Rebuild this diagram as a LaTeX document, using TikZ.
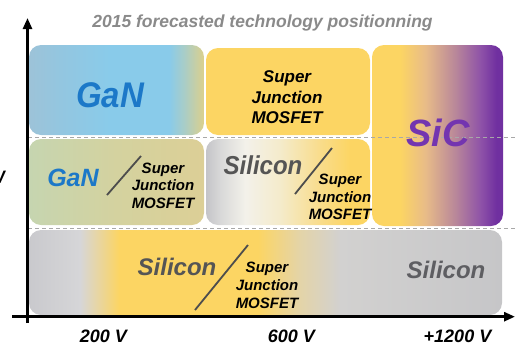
\documentclass[tikz,border=0pt]{standalone}
\usepackage{fontspec}
\setmainfont{Liberation Sans}
\usetikzlibrary{arrows.meta}
\definecolor{gan0}{HTML}{9DC3D8}
\definecolor{gan1}{HTML}{93C6E0}
\definecolor{gan2}{HTML}{89CBEA}
\definecolor{gan3}{HTML}{AACDC6}
\definecolor{gan4}{HTML}{DCD08C}
\definecolor{sjyellow}{HTML}{FCD563}
\definecolor{sic1}{HTML}{E8BC88}
\definecolor{sic2}{HTML}{B8869A}
\definecolor{sic3}{HTML}{8E52A8}
\definecolor{sic4}{HTML}{7030A0}
\definecolor{ml0}{HTML}{C6D5B0}
\definecolor{ml1}{HTML}{D4D29F}
\definecolor{ml2}{HTML}{DCCF96}
\definecolor{mm0}{HTML}{C4C4C8}
\definecolor{mm1}{HTML}{D8D8D8}
\definecolor{mm2}{HTML}{F3F1EA}
\definecolor{mm3}{HTML}{F4EBCB}
\definecolor{mm4}{HTML}{F9DC8A}
\definecolor{bt0}{HTML}{C9C9CD}
\definecolor{bt1}{HTML}{D6D6D8}
\definecolor{bt2}{HTML}{E4D4A8}
\definecolor{bt3}{HTML}{D2D1D0}
\definecolor{bt4}{HTML}{C6C6C8}
\definecolor{ganblue}{HTML}{1C78C8}
\definecolor{sicpurple}{HTML}{7335B0}
\definecolor{sigray}{HTML}{555555}
\definecolor{sigray2}{HTML}{5E5E62}
\definecolor{titlegray}{HTML}{8A8A8A}
\definecolor{sepgray}{HTML}{A8A8A8}
\definecolor{slashgray}{HTML}{4D4D4D}
\pgfdeclarehorizontalshading{ganshade}{100bp}{color(0bp)=(gan0); color(25bp)=(gan0); color(34bp)=(gan1); color(48bp)=(gan2); color(65bp)=(gan2); color(69.5bp)=(gan3); color(75bp)=(gan4); color(100bp)=(gan4)}
\pgfdeclarehorizontalshading{sicshade}{100bp}{color(0bp)=(sjyellow); color(25bp)=(sjyellow); color(35.8bp)=(sjyellow); color(45.4bp)=(sic1); color(57bp)=(sic2); color(66.5bp)=(sic3); color(72.5bp)=(sic4); color(100bp)=(sic4)}
\pgfdeclarehorizontalshading{mlshade}{100bp}{color(0bp)=(ml0); color(25bp)=(ml0); color(50bp)=(ml1); color(75bp)=(ml2); color(100bp)=(ml2)}
\pgfdeclarehorizontalshading{mmshade}{100bp}{color(0bp)=(mm0); color(25bp)=(mm0); color(29.3bp)=(mm1); color(37bp)=(mm2); color(47.5bp)=(mm3); color(60bp)=(mm4); color(69bp)=(sjyellow); color(100bp)=(sjyellow)}
\pgfdeclarehorizontalshading{btshade}{100bp}{color(0bp)=(bt0); color(25bp)=(bt0); color(30.4bp)=(bt1); color(34.5bp)=(sjyellow); color(49.2bp)=(sjyellow); color(53.6bp)=(bt2); color(57.9bp)=(bt3); color(75bp)=(bt4); color(100bp)=(bt4)}
\newcommand\myfs[2]{\fontsize{#1}{#2}\selectfont}
\begin{document}
\begin{tikzpicture}[x=1pt,y=-1pt,
  txt/.style={inner sep=0pt, align=center},
  box/.style={rounded corners=12pt},
  sepline/.style={draw=sepgray, dash pattern=on 4pt off 3pt, line width=1pt},
  slash/.style={draw=slashgray, line width=1.8pt},
  axisline/.style={line width=2.6pt, -{Triangle[length=11pt,width=9pt]}},
]
\useasboundingbox (0,0) rectangle (515,349);
% boxes
\shade[box, shading=ganshade] (29,45) rectangle (204,135);
\fill[box, fill=sjyellow] (206,48) rectangle (370,135);
\shade[box, shading=sicshade] (372,45) rectangle (503,226);
\shade[box, shading=mlshade] (29,139) rectangle (204,225);
\shade[box, shading=mmshade] (206,139) rectangle (370,225);
\shade[box, shading=btshade] (29,230) rectangle (502,315);
% dashed separators
\coordinate (d1a) at (28,137);
\coordinate (d1b) at (515,137);
\coordinate (d2a) at (28,228);
\coordinate (d2b) at (515,228);
\draw[sepline] (d1a) -- (d1b);
\draw[sepline] (d2a) -- (d2b);
% axes
\coordinate (yb) at (27.5,323);
\coordinate (yt) at (27.5,18);
\coordinate (xl) at (12,316.7);
\coordinate (xr) at (515,316.7);
\draw[axisline] (yb) -- (yt);
\draw[axisline] (xl) -- (xr);
% slashes
\coordinate (s1a) at (107,195);
\coordinate (s1b) at (141,156);
\coordinate (s2a) at (295,194);
\coordinate (s2b) at (332,148);
\coordinate (s3a) at (195,310);
\coordinate (s3b) at (248,245);
\draw[slash] (s1a) -- (s1b);
\draw[slash] (s2a) -- (s2b);
\draw[slash] (s3a) -- (s3b);
% texts
\node[txt, text=titlegray, font=\bfseries\itshape\myfs{17.5}{20}, anchor=base] (title) at (262.5,27) {2015 forecasted technology positionning};
\node[txt, text=ganblue, font=\bfseries\itshape\myfs{33}{38}, yscale=1.08] (gan1) at (110,95) {GaN};
\node[txt, font=\bfseries\itshape\myfs{17}{20.5}] (sj1) at (287,97.5) {Super\\Junction\\MOSFET};
\node[txt, text=sicpurple, font=\bfseries\itshape\myfs{38}{42}] (sic) at (438,133) {SiC};
\node[txt, text=ganblue, font=\bfseries\itshape\myfs{25}{28}] (gan2) at (73,178) {GaN};
\node[txt, font=\bfseries\itshape\myfs{15}{17.5}] (sj2) at (163,185.5) {Super\\Junction\\MOSFET};
\node[txt, text=sigray, font=\bfseries\itshape\myfs{24}{28}, yscale=1.08] (si1) at (263,165) {Silicon};
\node[txt, font=\bfseries\itshape\myfs{15}{17.5}] (sj3) at (340,197) {Super\\Junction\\MOSFET};
\node[txt, text=sigray, font=\bfseries\itshape\myfs{24}{28}] (si2) at (177,267) {Silicon};
\node[txt, font=\bfseries\itshape\myfs{15}{18}] (sj4) at (267,285) {Super\\Junction\\MOSFET};
\node[txt, text=sigray2, font=\bfseries\itshape\myfs{24}{28}] (si3) at (446,270) {Silicon};
\node[txt, font=\bfseries\itshape\myfs{18}{20}] (v200) at (103.5,336) {200 V};
\node[txt, font=\bfseries\itshape\myfs{18}{20}] (v600) at (291.5,336) {600 V};
\node[txt, font=\bfseries\itshape\myfs{18}{20}] (v1200) at (457.5,336) {+1200 V};
\node[txt, font=\bfseries\itshape\myfs{18}{20}, anchor=east] (yfrag) at (5,177) {W};
\end{tikzpicture}
\end{document}
